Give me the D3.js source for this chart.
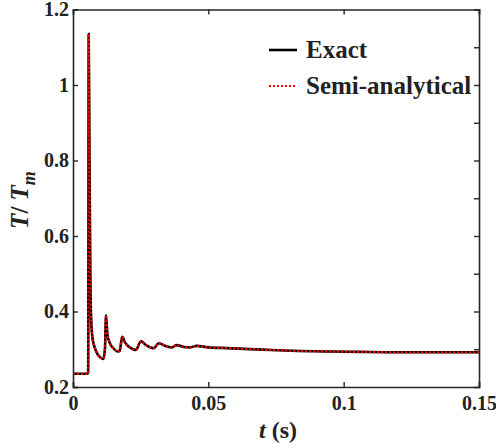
<!DOCTYPE html>
<html>
<head>
<meta charset="utf-8">
<script src="https://cdn.jsdelivr.net/npm/d3@7"></script>
<style>
  body { margin: 0; background: #fff; }
  text { font-family: "Liberation Serif", "Times New Roman", serif; font-weight: bold; fill: #222; }
</style>
</head>
<body>
<svg id="chart" width="496" height="448"></svg>
<script>
// time (s) and normalised torque
var timeValues = [0, 0.0054, 0.0056, 0.0058, 0.0061, 0.0064, 0.0067, 0.0072, 0.0080, 0.0090,
    0.0100, 0.0112, 0.0118, 0.0122, 0.0127, 0.0135, 0.0150, 0.0165, 0.0172, 0.0182,
    0.0192, 0.0210, 0.0232, 0.0251, 0.0270, 0.0298, 0.0317, 0.0340, 0.0365, 0.0383,
    0.0410, 0.0432, 0.0457, 0.0500, 0.0570, 0.0700, 0.0810, 0.0950, 0.1060, 0.1200,
    0.1310, 0.1500];
var exactValues = [0.235, 0.235, 0.24, 1.135, 0.80, 0.50, 0.38, 0.33, 0.305, 0.288,
    0.279, 0.274, 0.30, 0.39, 0.34, 0.318, 0.302, 0.294, 0.295, 0.333,
    0.318, 0.305, 0.298, 0.321, 0.311, 0.303, 0.316, 0.309, 0.305, 0.311,
    0.306, 0.305, 0.309, 0.305, 0.303, 0.299, 0.296, 0.294, 0.293, 0.292,
    0.292, 0.292];
var semiValues = exactValues.slice();

var xTicks = [0, 0.05, 0.1, 0.15];
var yTicksLeft = [0.2, 0.4, 0.6, 0.8, 1, 1.2];
var yTicksRight = [0.3, 0.4, 0.5, 0.6, 0.7, 0.8, 0.9, 1.0, 1.1];
var legendLabels = ["Exact", "Semi-analytical"];

var plotLeft = 73, plotRight = 479, plotTop = 9.5, plotBottom = 387;
var tickLen = 5;
var axisColor = "#262626";

var svg = d3.select("#chart");

var x = d3.scaleLinear().domain([0, 0.15]).range([plotLeft, plotRight]);
var y = d3.scaleLinear().domain([0.2, 1.2]).range([plotBottom, plotTop]);

var exactData = timeValues.map(function (t, i) { return [t, exactValues[i]]; });
var semiData = timeValues.map(function (t, i) { return [t, semiValues[i]]; });

var line = d3.line()
    .x(function (d) { return x(d[0]); })
    .y(function (d) { return y(d[1]); })
    .curve(d3.curveMonotoneX);

svg.append("path")
    .datum(exactData)
    .attr("d", line)
    .attr("fill", "none")
    .attr("stroke", "#000")
    .attr("stroke-width", 2.6);

svg.append("path")
    .datum(semiData)
    .attr("d", line)
    .attr("fill", "none")
    .attr("stroke", "#ff0000")
    .attr("stroke-width", 2.2)
    .attr("stroke-dasharray", "2,2");

// axes: bottom & left carry labels, top & right only ticks (inward)
var fmt = function (d) { return String(+d.toFixed(2)); };

var xAxis = d3.axisBottom(x).tickValues(xTicks).tickSize(-tickLen).tickPadding(9).tickFormat(fmt);
var yAxis = d3.axisLeft(y).tickValues(yTicksLeft).tickSize(-tickLen).tickPadding(4).tickFormat(fmt);
var xTop = d3.axisTop(x).tickValues(xTicks).tickSize(-tickLen).tickFormat("");
var yRight = d3.axisRight(y).tickValues(yTicksRight).tickSize(-tickLen).tickFormat("");

function styleAxis(g) {
    g.select(".domain").attr("stroke", axisColor).attr("stroke-width", 1.6);
    g.selectAll(".tick line").attr("stroke", axisColor).attr("stroke-width", 1.4);
    g.selectAll(".tick text")
        .attr("fill", "#222")
        .style("font-family", "'Liberation Serif', 'Times New Roman', serif")
        .style("font-weight", "bold")
        .style("font-size", "20px");
}

svg.append("g").attr("transform", "translate(0," + plotBottom + ")").call(xAxis).call(styleAxis);
svg.append("g").attr("transform", "translate(" + plotLeft + ",0)").call(yAxis).call(styleAxis);
svg.append("g").attr("transform", "translate(0," + plotTop + ")").call(xTop).call(styleAxis);
svg.append("g").attr("transform", "translate(" + plotRight + ",0)").call(yRight).call(styleAxis);

// axis titles
var xt = svg.append("text")
    .attr("x", 278)
    .attr("y", 438)
    .attr("text-anchor", "middle")
    .style("font-size", "24px");
xt.append("tspan").style("font-style", "italic").text("t");
xt.append("tspan").text(" (s)");

var yt = svg.append("text")
    .attr("transform", "translate(28,200) rotate(-90)")
    .attr("text-anchor", "middle")
    .style("font-size", "25px");
yt.append("tspan").style("font-style", "italic").text("T");
yt.append("tspan").text("/ ");
yt.append("tspan").style("font-style", "italic").text("T");
yt.append("tspan").style("font-style", "italic").style("font-size", "18px").attr("dy", 7).text("m");

// legend
var legendY = [50, 86];
var legend = svg.append("g");
legend.append("line")
    .attr("x1", 269).attr("x2", 297).attr("y1", legendY[0]).attr("y2", legendY[0])
    .attr("stroke", "#000").attr("stroke-width", 2.6);
legend.append("line")
    .attr("x1", 269).attr("x2", 297).attr("y1", legendY[1]).attr("y2", legendY[1])
    .attr("stroke", "#ff0000").attr("stroke-width", 2.2).attr("stroke-dasharray", "2,2");
legendLabels.forEach(function (lab, i) {
    legend.append("text")
        .attr("x", 306)
        .attr("y", legendY[i] + 8)
        .style("font-size", "25px")
        .text(lab);
});
</script>
</body>
</html>
